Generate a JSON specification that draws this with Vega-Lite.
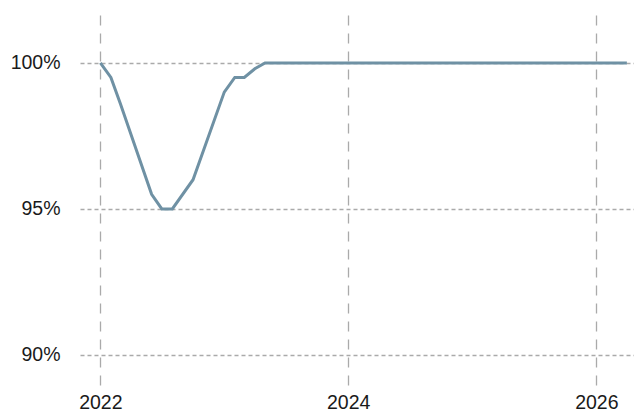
{
  "$schema": "https://vega.github.io/schema/vega-lite/v6.json",
  "autosize": {"type": "none"},
  "padding": {"left": 80, "top": 15, "right": 0, "bottom": 26},
  "width": 554,
  "height": 370,
  "background": "white",
  "config": {
    "view": {"stroke": null},
    "axis": {"labelFont": "Liberation Sans", "labelFontSize": 19.5, "labelColor": "#1a1a1a", "domain": false, "ticks": false, "gridColor": "#aaaaaa", "gridWidth": 1.3, "gridOpacity": 1}
  },
  "data": {"values": [
    {"date": "2022-01-01", "value": 1.0},
    {"date": "2022-02-01", "value": 0.995},
    {"date": "2022-03-01", "value": 0.986},
    {"date": "2022-06-01", "value": 0.955},
    {"date": "2022-07-01", "value": 0.95},
    {"date": "2022-08-01", "value": 0.95},
    {"date": "2022-10-01", "value": 0.96},
    {"date": "2023-01-01", "value": 0.99},
    {"date": "2023-02-01", "value": 0.995},
    {"date": "2023-03-01", "value": 0.995},
    {"date": "2023-04-01", "value": 0.998},
    {"date": "2023-05-01", "value": 1.0},
    {"date": "2024-01-01", "value": 1.0},
    {"date": "2025-01-01", "value": 1.0},
    {"date": "2026-01-01", "value": 1.0},
    {"date": "2026-04-01", "value": 1.0}
  ]},
  "mark": {"type": "line", "color": "#6f91a4", "strokeWidth": 3, "clip": true},
  "encoding": {
    "x": {
      "field": "date", "type": "temporal",
      "scale": {"type": "utc", "domain": [{"year": 2021, "month": 11, "date": 2, "utc": true}, {"year": 2026, "month": 4, "date": 22, "utc": true}]},
      "axis": {"title": null, "format": "%Y", "formatType": "utc", "values": [{"year": 2022, "utc": true}, {"year": 2024, "utc": true}, {"year": 2026, "utc": true}], "gridDash": [10, 8], "labelPadding": 8, "labelBaseline": "top"}
    },
    "y": {
      "field": "value", "type": "quantitative",
      "scale": {"domain": [0.8897, 1.0164], "zero": false, "nice": false},
      "axis": {"title": null, "format": ".0%", "values": [0.9, 0.95, 1.0], "gridDash": [4, 3], "labelPadding": 20}
    }
  }
}
